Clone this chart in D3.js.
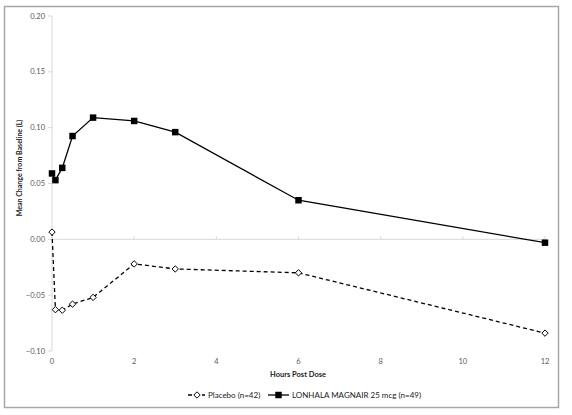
<!DOCTYPE html>
<html>
<head>
<meta charset="utf-8">
<script src="https://d3js.org/d3.v7.min.js"></script>
<style>
  body { margin: 0; background: #fff; }
  svg text { font-family: Lato, "Liberation Sans", sans-serif; }
</style>
</head>
<body>
<div id="chart"></div>
<script>
// hours post dose and mean change from baseline (L)
var hours = [0, 0.083, 0.25, 0.5, 1, 2, 3, 6, 12]
var placebo = [0.0065, -0.063, -0.0635, -0.058, -0.052, -0.022, -0.0265, -0.030, -0.084]
var lonhala = [0.059, 0.053, 0.064, 0.0925, 0.109, 0.106, 0.096, 0.035, -0.003]
var xTicks = [0, 2, 4, 6, 8, 10, 12]
var yTicks = [-0.10, -0.05, 0.00, 0.05, 0.10, 0.15, 0.20]
var seriesNames = ["Placebo (n=42)", "LONHALA MAGNAIR 25 mcg (n=49)"]

var width = 572, height = 415
var axisGrey = '#d9d9d9'
var labelGrey = '#595959'

var svg = d3.select("#chart").append("svg")
  .attr("width", width)
  .attr("height", height)

// outer frame
svg.append("rect")
  .attr("x", 4.5).attr("y", 6.5)
  .attr("width", 554).attr("height", 401)
  .attr("fill", "none")
  .attr("stroke", "#a6a6a6")
  .attr("stroke-width", 1.5)

var x = d3.scaleLinear().domain([0, 12]).range([52, 545])
var y = d3.scaleLinear().domain([-0.10, 0.20]).range([351, 16])

// y axis
svg.append("line")
  .attr("x1", x(0)).attr("x2", x(0))
  .attr("y1", y(0.20)).attr("y2", y(-0.10))
  .attr("stroke", axisGrey).attr("stroke-width", 1)

svg.selectAll("line.ytick")
  .data(yTicks)
  .enter().append("line")
  .attr("class", "ytick")
  .attr("x1", x(0) - 4).attr("x2", x(0))
  .attr("y1", d => y(d)).attr("y2", d => y(d))
  .attr("stroke", axisGrey)

svg.selectAll("text.ylab")
  .data(yTicks)
  .enter().append("text")
  .attr("class", "ylab")
  .attr("x", 45)
  .attr("y", d => y(d))
  .attr("dy", "0.35em")
  .attr("text-anchor", "end")
  .attr("font-size", "7.5px")
  .attr("fill", labelGrey)
  .text(d => d3.format(".2f")(d))

// x axis sits on y = 0
svg.append("line")
  .attr("x1", x(0)).attr("x2", x(12))
  .attr("y1", y(0)).attr("y2", y(0))
  .attr("stroke", axisGrey).attr("stroke-width", 1)

svg.selectAll("line.xtick")
  .data(xTicks)
  .enter().append("line")
  .attr("class", "xtick")
  .attr("x1", d => x(d)).attr("x2", d => x(d))
  .attr("y1", y(0) - 3).attr("y2", y(0))
  .attr("stroke", axisGrey)

svg.selectAll("text.xlab")
  .data(xTicks)
  .enter().append("text")
  .attr("class", "xlab")
  .attr("x", d => x(d))
  .attr("y", 364)
  .attr("text-anchor", "middle")
  .attr("font-size", "7.5px")
  .attr("fill", labelGrey)
  .text(d => d)

// axis titles
svg.append("text")
  .attr("x", 298).attr("y", 377)
  .attr("text-anchor", "middle")
  .attr("font-size", "7.5px")
  .attr("font-weight", "bold")
  .attr("fill", "#222")
  .text("Hours Post Dose")

svg.append("text")
  .attr("transform", "translate(22,168) rotate(-90)")
  .attr("text-anchor", "middle")
  .attr("font-size", "7px")
  .attr("font-weight", "bold")
  .attr("fill", "#222")
  .text("Mean Change from Baseline (L)")

var line = d3.line()
  .x(d => x(d[0]))
  .y(d => y(d[1]))

var placeboPts = hours.map((h, i) => [h, placebo[i]])
var lonhalaPts = hours.map((h, i) => [h, lonhala[i]])

svg.append("path")
  .datum(placeboPts)
  .attr("d", line)
  .attr("fill", "none")
  .attr("stroke", "#000")
  .attr("stroke-width", 1.3)
  .attr("stroke-dasharray", "4,3")

svg.append("path")
  .datum(lonhalaPts)
  .attr("d", line)
  .attr("fill", "none")
  .attr("stroke", "#000")
  .attr("stroke-width", 1.3)

var diamond = d3.symbol().type(d3.symbolDiamond2).size(26)
var square = d3.symbol().type(d3.symbolSquare).size(42)

svg.selectAll("path.pmark")
  .data(placeboPts)
  .enter().append("path")
  .attr("class", "pmark")
  .attr("d", diamond)
  .attr("transform", d => "translate(" + x(d[0]) + "," + y(d[1]) + ")")
  .attr("fill", "#fff")
  .attr("stroke", "#000")
  .attr("stroke-width", 1)

svg.selectAll("path.lmark")
  .data(lonhalaPts)
  .enter().append("path")
  .attr("class", "lmark")
  .attr("d", square)
  .attr("transform", d => "translate(" + x(d[0]) + "," + y(d[1]) + ")")
  .attr("fill", "#000")

// legend
var legY = 395
svg.append("line")
  .attr("x1", 188).attr("x2", 205).attr("y1", legY).attr("y2", legY)
  .attr("stroke", "#000").attr("stroke-width", 1.3).attr("stroke-dasharray", "4,3")
svg.append("path")
  .attr("d", diamond)
  .attr("transform", "translate(197," + legY + ")")
  .attr("fill", "#fff").attr("stroke", "#000")
svg.append("text")
  .attr("x", 208).attr("y", legY).attr("dy", "0.35em")
  .attr("font-size", "8px").attr("fill", "#222")
  .text(seriesNames[0])

svg.append("line")
  .attr("x1", 268).attr("x2", 289).attr("y1", legY).attr("y2", legY)
  .attr("stroke", "#000").attr("stroke-width", 1.3)
svg.append("path")
  .attr("d", square)
  .attr("transform", "translate(278.5," + legY + ")")
  .attr("fill", "#000")
svg.append("text")
  .attr("x", 292).attr("y", legY).attr("dy", "0.35em")
  .attr("font-size", "8px").attr("fill", "#222")
  .text(seriesNames[1])
</script>
</body>
</html>
